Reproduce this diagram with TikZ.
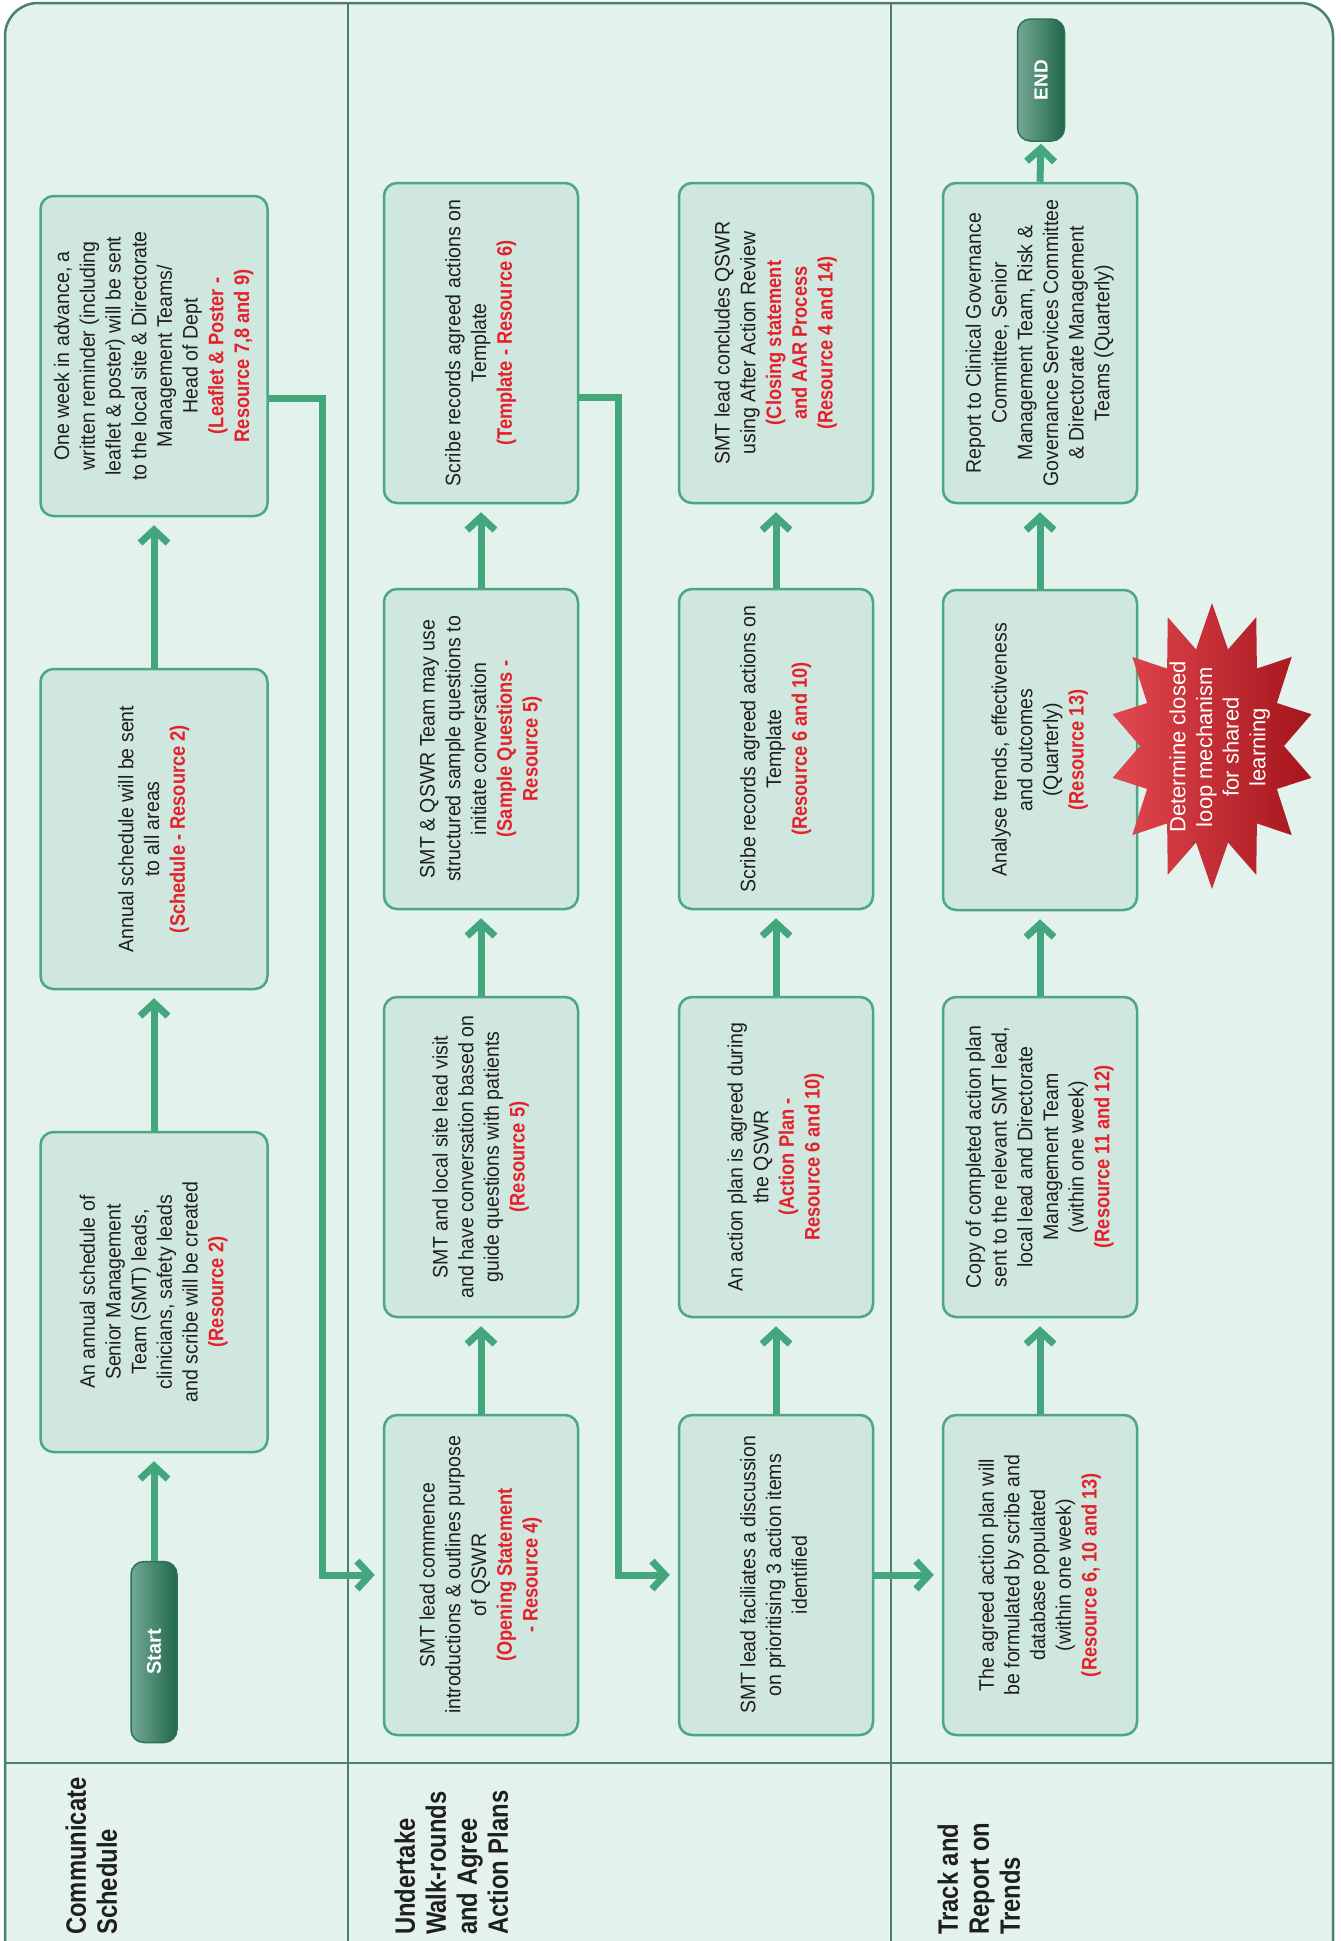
\documentclass[tikz,border=0pt]{standalone}
\usepackage{fontspec}
\setmainfont{Liberation Sans}[FakeStretch=0.93]
\newfontfamily\rdfont{Liberation Sans}[FakeStretch=0.87]
\newfontfamily\lblfont{Liberation Sans}[FakeStretch=0.85]
\newfontfamily\starfont{Liberation Sans}
\usetikzlibrary{arrows.meta,calc}
\definecolor{lanebg}{HTML}{E3F2EC}
\definecolor{boxfill}{HTML}{CFE7DE}
\definecolor{boxline}{HTML}{4BA880}
\definecolor{arrowc}{HTML}{43A67C}
\definecolor{framec}{HTML}{4C8168}
\definecolor{resred}{HTML}{E5202A}
\definecolor{txt}{HTML}{1F1F1F}
\definecolor{termL}{HTML}{74A996}
\definecolor{termR}{HTML}{1F6749}
\definecolor{termD}{HTML}{2A7353}
\definecolor{starL}{HTML}{E2484F}
\definecolor{starM}{HTML}{D21F27}
\definecolor{starR}{HTML}{A5151C}
\newcommand\rd[1]{{\rdfont\bfseries\color{resred}#1}}
\newcommand\boxtext[1]{\rotatebox{90}{\fontsize{21}{25.7}\selectfont\color{txt}\begin{tabular}{@{}c@{}}#1\end{tabular}}}
\newcommand\lbltext[1]{\rotatebox{90}{\lblfont\bfseries\fontsize{28}{31}\selectfont\color{txt}\begin{tabular}{@{}l@{}}#1\end{tabular}}}
\tikzset{
  box/.style={draw=boxline, fill=boxfill, line width=2.5pt, rounded corners=13pt, inner sep=0pt, minimum width=194pt, minimum height=320pt},
  wbox/.style={box, minimum width=227pt},
  term/.style={draw=termD, line width=1.5pt, rounded corners=13pt, left color=termL, right color=termR, inner sep=0pt, text=white},
  arr/.style={draw=arrowc, line width=7pt, line join=miter, -{Straight Barb[length=13pt,width=28pt]}, shorten >=8pt},
  lbl/.style={anchor=south west, inner sep=0pt}
}
\begin{document}
\begin{tikzpicture}[x=1pt,y=-1pt]
\useasboundingbox (0,0) rectangle (1341,1941);
\fill[white] (0,0) rectangle (1341,1941);
\draw[fill=lanebg, draw=framec, line width=2.5pt, rounded corners=33pt] (5,3) rectangle (1333,1980);
\draw[framec, line width=2pt] (348,3) -- (348,1941);
\draw[framec, line width=2pt] (891,3) -- (891,1941);
\draw[framec, line width=2.5pt] (5,1763) -- (1333,1763);

% lane labels
\node[lbl] (L1) at (64,1935) {\lbltext{Communicate\\Schedule}};
\node[lbl] (L2) at (393,1935) {\lbltext{Undertake\\Walk-rounds\\and Agree\\Action Plans}};
\node[lbl] (L3) at (936,1935) {\lbltext{Track and\\Report on\\Trends}};

% terminals
\node[term, minimum width=46pt, minimum height=181pt] (Start) at (154,1652) {\rotatebox{90}{\starfont\bfseries\fontsize{20}{24}\selectfont Start}};
\node[term, minimum width=47pt, minimum height=122pt] (END) at (1041,80) {\rotatebox{90}{\starfont\bfseries\fontsize{19}{23}\selectfont END}};

% lane 1
\node[wbox] (A1) at (154,1292) {\boxtext{An annual schedule of\\Senior Management\\Team (SMT) leads,\\clinicians, safety leads\\and scribe will be created\\\rd{(Resource 2)}}};
\node[wbox] (A2) at (154,829) {\boxtext{Annual schedule will be sent\\to all areas\\\rd{(Schedule - Resource 2)}}};
\node[wbox] (A3) at (154,356) {\boxtext{One week in advance, a\\written reminder (including\\leaflet \& poster) will be sent\\to the local site \& Directorate\\Management Teams/\\Head of Dept\\\rd{(Leaflet \& Poster -}\\\rd{Resource 7,8 and 9)}}};

% lane 2 column 1
\node[box] (B1) at (481,1575) {\boxtext{SMT lead commence\\introductions \& outlines purpose\\of QSWR\\\rd{(Opening Statement}\\\rd{- Resource 4)}}};
\node[box] (B2) at (481,1157) {\boxtext{SMT and local site lead visit\\and have conversation based on\\guide questions with patients\\\rd{(Resource 5)}}};
\node[box] (B3) at (481,749) {\boxtext{SMT \& QSWR Team may use\\structured sample questions to\\initiate conversation\\\rd{(Sample Questions -}\\\rd{Resource 5)}}};
\node[box] (B4) at (481,343) {\boxtext{Scribe records agreed actions on\\Template\\\rd{(Template - Resource 6)}}};

% lane 2 column 2
\node[box] (C1) at (776,1575) {\boxtext{SMT lead faciliates a discussion\\on prioritising 3 action items\\identified}};
\node[box] (C2) at (776,1157) {\boxtext{An action plan is agreed during\\the QSWR\\\rd{(Action Plan -}\\\rd{Resource 6 and 10)}}};
\node[box] (C3) at (776,749) {\boxtext{Scribe records agreed actions on\\Template\\\rd{(Resource 6 and 10)}}};
\node[box] (C4) at (776,343) {\boxtext{SMT lead concludes QSWR\\using After Action Review\\\rd{(Closing statement}\\\rd{and AAR Process}\\\rd{(Resource 4 and 14)}}};

% lane 3
\node[box] (D1) at (1040,1575) {\boxtext{The agreed action plan will\\be formulated by scribe and\\database populated\\(within one week)\\\rd{(Resource 6, 10 and 13)}}};
\node[box] (D2) at (1040,1157) {\boxtext{Copy of completed action plan\\sent to the relevant SMT lead,\\local lead and Directorate\\Management Team\\(within one week)\\\rd{(Resource 11 and 12)}}};
\node[box] (D3) at (1040,750) {\boxtext{Analyse trends, effectiveness\\and outcomes\\(Quarterly)\\\rd{(Resource 13)}}};
\node[box] (D4) at (1040,343) {\boxtext{Report to Clinical Governance\\Committee, Senior\\Management Team, Risk \&\\Governance Services Committee\\\& Directorate Management\\Teams (Quarterly)}};

% star
\shade[left color=starL, middle color=starM, right color=starR]
  plot[samples at={0,...,27}, variable=\k]
  ({1212+ifthenelse(mod(\k,2)==0,102,72)*cos(90+\k*360/28)},
   {746-ifthenelse(mod(\k,2)==0,143,99)*sin(90+\k*360/28)}) -- cycle;
\node[text=white, inner sep=0pt] (starlabel) at (1220,747) {\rotatebox{90}{\starfont\fontsize{22}{26.7}\selectfont\begin{tabular}{@{}c@{}}Determine closed\\loop mechanism\\for shared\\learning\end{tabular}}};

% connectors
\draw[arr] (Start.north) -- (A1.south);
\draw[arr] (A1.north) -- (A2.south);
\draw[arr] (A2.north) -- (A3.south);
\draw[arr] ([yshift=-42pt]A3.east) -| (322,1575) -- (B1.west);
\draw[arr] (B1.north) -- (B2.south);
\draw[arr] (B2.north) -- (B3.south);
\draw[arr] (B3.north) -- (B4.south);
\draw[arr] ([yshift=-54pt]B4.east) -| (618,1575) -- (C1.west);
\draw[arr] (C1.north) -- (C2.south);
\draw[arr] (C2.north) -- (C3.south);
\draw[arr] (C3.north) -- (C4.south);
\draw[arr] (C1.east) -- (D1.west);
\draw[arr] (D1.north) -- (D2.south);
\draw[arr] (D2.north) -- (D3.south);
\draw[arr] (D3.north) -- (D4.south);
\draw[arr, shorten >=2pt] (D4.north) -- (END.south);
\end{tikzpicture}
\end{document}
